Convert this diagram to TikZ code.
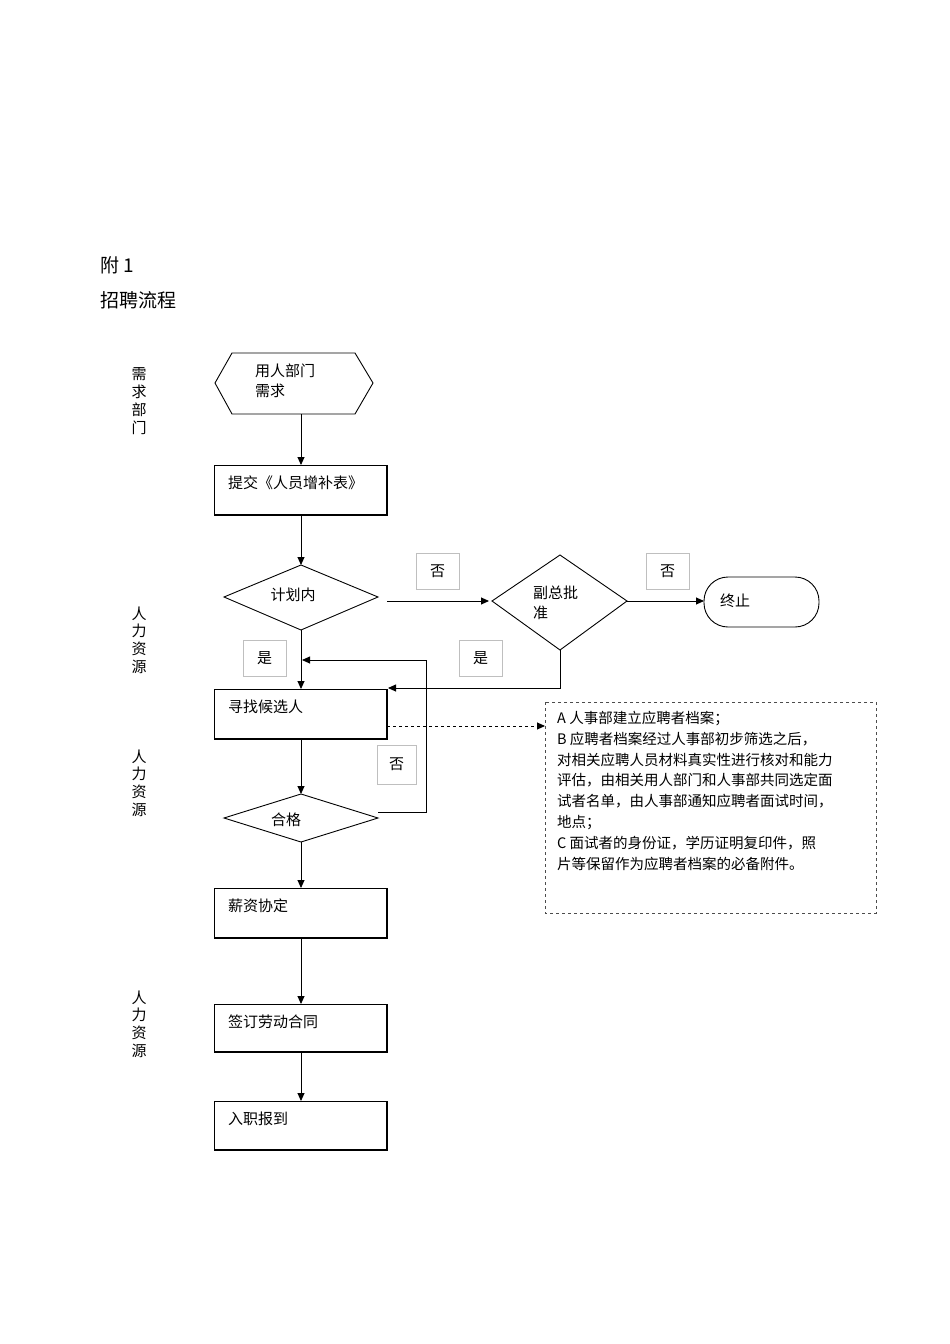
\documentclass[tikz,border=0pt]{standalone}
\usepackage{fontspec}
\setmainfont{Noto Sans CJK SC}
\usetikzlibrary{arrows.meta}
\begin{document}
\begin{tikzpicture}[x=1pt,y=-1pt,
  every node/.style={font=\fontsize{15}{21}\selectfont,inner sep=0pt},
  ln/.style={line width=0.9pt},
  arr/.style={ln,-{Triangle[length=8pt,width=7pt]}},
  lbl/.style={draw=black!25,line width=0.5pt,minimum width=43pt,minimum height=36pt},
  txt/.style={anchor=west}]
\useasboundingbox (0,0) rectangle (950,1344);
\node[txt,font=\fontsize{19}{22}\selectfont] (t1) at (100,265) {附 1};
\node[txt,font=\fontsize{19}{22}\selectfont] (t2) at (100,300) {招聘流程};
% side labels
\node (s1) at (139,401) {\shortstack{需\\[1pt]求\\[1pt]部\\[1pt]门}};
\node (s2) at (139,640) {\shortstack{人\\[1pt]力\\[1pt]资\\[1pt]源}};
\node (s3) at (139,783) {\shortstack{人\\[1pt]力\\[1pt]资\\[1pt]源}};
\node (s4) at (139,1024) {\shortstack{人\\[1pt]力\\[1pt]资\\[1pt]源}};
% hexagon
\draw[ln] (215,383)--(232,353)--(355,353)--(373,383)--(355,414)--(232,414)--cycle;
\coordinate (hb) at (301,414);
\node[txt] (h1) at (255,371) {用人部门};
\node[txt] (h2) at (255,391) {需求};
% boxes
\foreach \n/\ya/\yb/\t in {b1/465/515/提交《人员增补表》, b2/689/739/寻找候选人, b3/888/938/薪资协定, b4/1004/1052/签订劳动合同, b5/1101/1150/入职报到}{
  \draw[line width=0.7pt] (214,\ya) rectangle (387,\yb);
  \draw[line width=1.6pt] (214,\yb)--(387,\yb)--(387,\ya);
  \coordinate (\n t) at (301,\ya);
  \coordinate (\n b) at (301,\yb);
  \node[txt] (\n) at (228,\ya+18) {\t};
}
% diamonds
\draw[ln] (224,597)--(301,565)--(378,597)--(301,630)--cycle;
\node (d1) at (293,595) {计划内};
\draw[ln] (492,601)--(560,555)--(627,601)--(560,650)--cycle;
\node[txt] (d2a) at (533,593) {副总批};
\node[txt] (d2b) at (533,613) {准};
\draw[ln] (224,818)--(301,794)--(378,818)--(301,842)--cycle;
\node (d3) at (286,820) {合格};
% stadium
\draw[ln,rounded corners=24pt] (704,577) rectangle (819,627);
\node[txt] (end) at (720,601) {终止};
% labels
\node[lbl] (n1) at (437.5,571) {否};
\node[lbl] (n2) at (667.5,571) {否};
\node[lbl] (y1) at (264.5,658) {是};
\node[lbl] (y2) at (480.5,658) {是};
\node[lbl,minimum width=39pt,minimum height=39pt] (n3) at (396.5,764.5) {否};
% connectors
\draw[arr] (hb)--(b1t);
\draw[arr] (b1b)--(301,565);
\draw[arr] (387,601)--(489,601);
\draw[arr] (627,601)--(704,601);
\draw[arr] (301,630)--(b2t);
\draw[arr] (560,650)--(560,688)--(388,688);
\draw[arr] (b2b)--(301,794);
\draw[arr] (378,812)--(426,812)--(426,660)--(302,660);
\draw[arr] (b3b)--(b4t);
\draw[arr] (b4b)--(b5t);
\draw[arr] (301,842)--(b3t);
% note
\draw[dashed,line width=0.6pt,black!70] (545,702) rectangle (876,913);
\draw[ln,dashed,-{Triangle[length=8pt,width=7pt]}] (387,726)--(545,726);
\node[anchor=north west,align=left,font=\fontsize{14.5}{20.8}\selectfont] (note) at (557,711) {A\ 人事部建立应聘者档案；\\B\ 应聘者档案经过人事部初步筛选之后，\\对相关应聘人员材料真实性进行核对和能力\\评估，由相关用人部门和人事部共同选定面\\试者名单，由人事部通知应聘者面试时间，\\地点；\\C\ 面试者的身份证，学历证明复印件，照\\片等保留作为应聘者档案的必备附件。};
\end{tikzpicture}
\end{document}
